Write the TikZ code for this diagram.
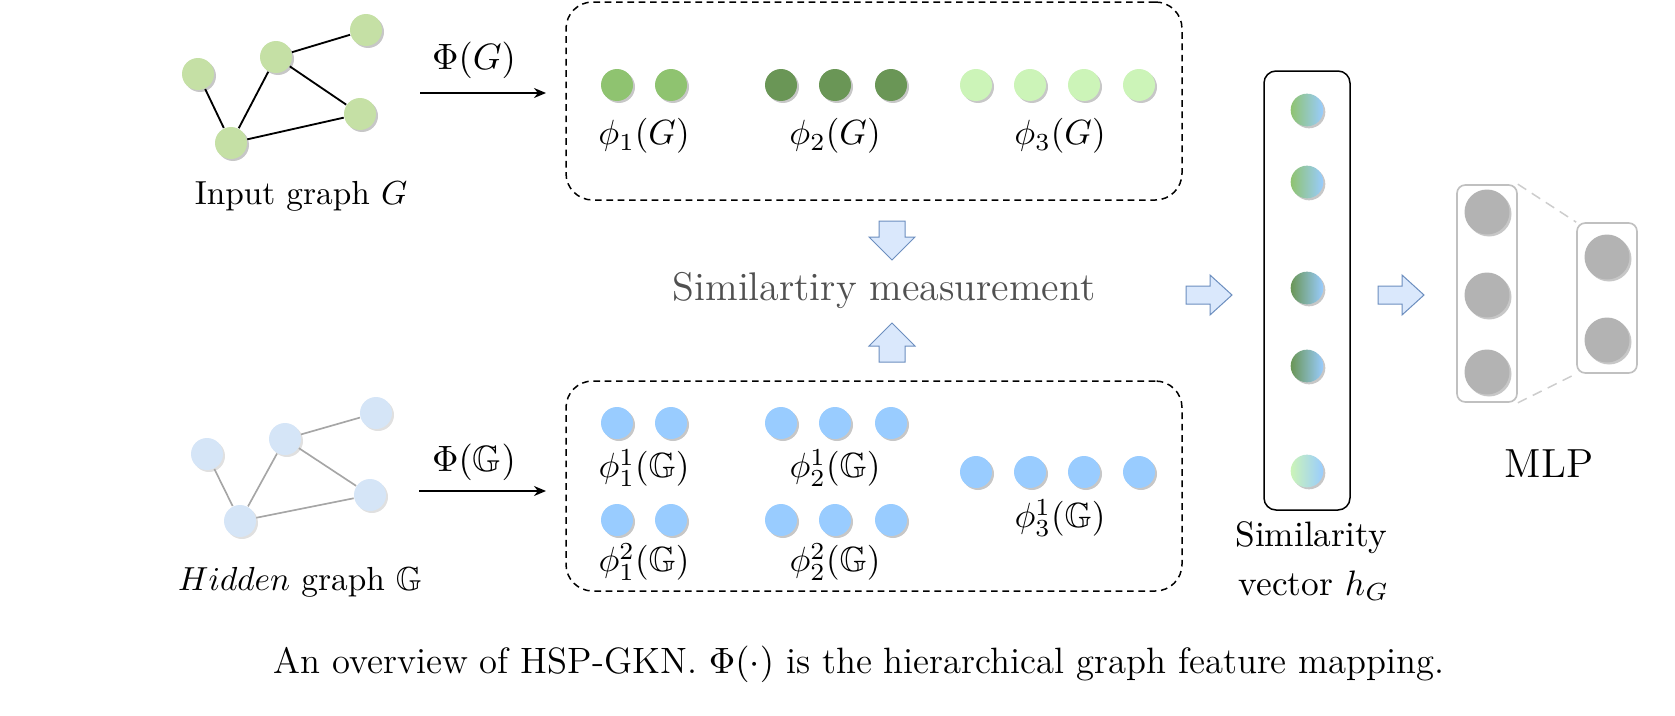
\RequirePackage{fix-cm}
\documentclass[tikz,border=0pt]{standalone}
\usepackage{amssymb}
\usetikzlibrary{shadows,arrows.meta}
\definecolor{graphgreen}{HTML}{C5E0A5}
\definecolor{hiddenblue}{HTML}{D5E5F7}
\definecolor{cone}{HTML}{8FC370}
\definecolor{ctwo}{HTML}{6A9656}
\definecolor{cthree}{HTML}{CCF4B8}
\definecolor{dotblue}{HTML}{99CCFF}
\definecolor{bafill}{HTML}{DAE8FC}
\definecolor{badraw}{HTML}{6C8EBF}
\definecolor{mlpgray}{HTML}{B3B3B3}
\definecolor{mlpbox}{HTML}{C0C0C0}
\definecolor{simgray}{HTML}{505050}
\begin{document}
\begin{tikzpicture}[x=0.3pt,y=-0.3pt,
  shad/.style={drop shadow={shadow xshift=0.6pt, shadow yshift=-0.6pt, opacity=0.22, fill=black}},
  gnode/.style={circle, minimum size=9.6pt, inner sep=0pt, fill=graphgreen, shad},
  hnode/.style={circle, minimum size=9.6pt, inner sep=0pt, fill=hiddenblue, drop shadow={shadow xshift=0.6pt, shadow yshift=-0.6pt, opacity=0.12, fill=black}},
  gedge/.style={line width=0.55pt, black},
  hedge/.style={line width=0.5pt, black!35},
  fdot/.style={circle, minimum size=9.6pt, inner sep=0pt, shad},
  vdot/.style={circle, minimum size=9.8pt, inner sep=0pt, shad},
  mdot/.style={circle, minimum size=13.5pt, inner sep=0pt, fill=mlpgray, shad},
  lbl/.style={font=\fontsize{10.5}{12}\selectfont, inner sep=0pt},
  maplbl/.style={font=\fontsize{11}{12}\selectfont, inner sep=0pt},
  txt/.style={font=\fontsize{10}{12}\selectfont, inner sep=0pt},
  maparrow/.style={line width=0.45pt, -{Stealth[length=3.6pt,width=3pt]}},
  dbox/.style={draw, dashed, dash pattern=on 2pt off 1.4pt, line width=0.45pt, rounded corners=8pt},
  blockarrow/.style={fill=bafill, draw=badraw, line width=0.3pt},
  mbox/.style={draw=mlpbox, line width=0.5pt, rounded corners=2.5pt}]
\useasboundingbox (0,0) rectangle (1675,716);

% input graph
\node[gnode] (a) at (198,74) {};
\node[gnode] (b) at (276,57) {};
\node[gnode] (c) at (366,30) {};
\node[gnode] (d) at (360,114) {};
\node[gnode] (e) at (231,143) {};
\draw[gedge] (a) -- (e);
\draw[gedge] (e) -- (b);
\draw[gedge] (b) -- (c);
\draw[gedge] (b) -- (d);
\draw[gedge] (e) -- (d);
\node[txt] (tin) at (301,196) {Input graph $G$};

% hidden graph
\node[hnode] (ha) at (207,454) {};
\node[hnode] (hb) at (285,439) {};
\node[hnode] (hc) at (376,413) {};
\node[hnode] (hd) at (370,495) {};
\node[hnode] (he) at (240,521) {};
\draw[hedge] (ha) -- (he);
\draw[hedge] (he) -- (hb);
\draw[hedge] (hb) -- (hc);
\draw[hedge] (hb) -- (hd);
\draw[hedge] (he) -- (hd);
\node[txt] (thid) at (300,582) {$Hidden$ graph $\mathbb{G}$};

% mapping arrows
\coordinate (ms1) at (420,93);
\coordinate (me1) at (546,93);
\draw[maparrow] (ms1) -- (me1);
\node[maplbl] (phiG) at (474,60) {$\Phi(G)$};
\coordinate (ms2) at (419,491);
\coordinate (me2) at (546,491);
\draw[maparrow] (ms2) -- (me2);
\node[maplbl] (phiH) at (474,462) {$\Phi(\mathbb{G})$};

% dashed boxes
\node[dbox, minimum width=184.8pt, minimum height=59.4pt] (topbox) at (874,101) {};
\node[dbox, minimum width=184.8pt, minimum height=63pt] (botbox) at (874,486) {};

% top dots
\foreach \x/\n in {617/1,671/2} \node[fdot, fill=cone] (ta\n) at (\x,85) {};
\foreach \x/\n in {781/1,835/2,891/3} \node[fdot, fill=ctwo] (tb\n) at (\x,85) {};
\foreach \x/\n in {976/1,1030/2,1084/3,1139/4} \node[fdot, fill=cthree] (tc\n) at (\x,85) {};
\node[lbl] (lta) at (644,136) {$\phi_1(G)$};
\node[lbl] (ltb) at (835,136) {$\phi_2(G)$};
\node[lbl] (ltc) at (1060,136) {$\phi_3(G)$};

% bottom dots
\foreach \x/\n in {617/1,671/2} {
  \node[fdot, fill=dotblue] (ba\n) at (\x,423) {};
  \node[fdot, fill=dotblue] (bd\n) at (\x,520) {};}
\foreach \x/\n in {781/1,835/2,891/3} {
  \node[fdot, fill=dotblue] (bb\n) at (\x,423) {};
  \node[fdot, fill=dotblue] (be\n) at (\x,520) {};}
\foreach \x/\n in {976/1,1030/2,1084/3,1139/4} \node[fdot, fill=dotblue] (bc\n) at (\x,472) {};
\node[lbl] (lba) at (644,468) {$\phi_1^1(\mathbb{G})$};
\node[lbl] (lbb) at (835,468) {$\phi_2^1(\mathbb{G})$};
\node[lbl] (lbd) at (644,562) {$\phi_1^2(\mathbb{G})$};
\node[lbl] (lbe) at (835,562) {$\phi_2^2(\mathbb{G})$};
\node[lbl] (lbc) at (1060,518) {$\phi_3^1(\mathbb{G})$};

% similarity measurement
\draw[blockarrow] (879,221) -- (905,221) -- (905,237) -- (915,237) -- (892,260) -- (869,237) -- (879,237) -- cycle;
\draw[blockarrow] (879,362) -- (905,362) -- (905,346) -- (915,346) -- (892,323) -- (869,346) -- (879,346) -- cycle;
\node[font=\fontsize{12}{14}\selectfont, text=simgray, inner sep=0pt] (simm) at (884,290) {Similartiry measurement};

% right arrows
\draw[blockarrow] (1186,286) -- (1210,286) -- (1210,275) -- (1232,295) -- (1210,315) -- (1210,304) -- (1186,304) -- cycle;
\draw[blockarrow] (1378,286) -- (1402,286) -- (1402,275) -- (1424,295) -- (1402,315) -- (1402,304) -- (1378,304) -- cycle;

% similarity vector
\node[draw, line width=0.45pt, rounded corners=3.6pt, minimum width=25.8pt, minimum height=131.7pt] (svec) at (1307,290.5) {};
\node[vdot, left color=cone, right color=dotblue] (s1) at (1307,110) {};
\node[vdot, left color=cone, right color=dotblue] (s2) at (1307,182) {};
\node[vdot, left color=ctwo, right color=dotblue] (s3) at (1307,288) {};
\node[vdot, left color=ctwo, right color=dotblue] (s4) at (1307,366) {};
\node[vdot, left color=cthree, right color=dotblue] (s5) at (1307,471) {};
\node[txt, font=\fontsize{10.6}{14.7}\selectfont, align=center] (svl) at (1311,561) {Similarity\\ \,vector $h_G$};

% MLP
\node[mbox, minimum width=18pt, minimum height=65.1pt] (m1) at (1487,293.5) {};
\node[mbox, minimum width=18pt, minimum height=45pt] (m2) at (1607,298) {};
\node[mdot] (m11) at (1487,212) {};
\node[mdot] (m12) at (1487,295) {};
\node[mdot] (m13) at (1487,372) {};
\node[mdot] (m21) at (1607,257) {};
\node[mdot] (m22) at (1607,340) {};
\draw[mlpbox!80, line width=0.45pt, dash pattern=on 3pt off 2pt] (m1.north east) -- (m2.north west);
\draw[mlpbox!80, line width=0.45pt, dash pattern=on 3pt off 2pt] (m1.south east) -- (m2.south west);
\node[font=\fontsize{12.2}{14}\selectfont, inner sep=0pt] (mlpl) at (1549,464) {MLP};

% caption
\node[font=\fontsize{11}{13}\selectfont, inner sep=0pt] (cap) at (859,664) {An overview of HSP-GKN. $\Phi(\cdot)$ is the hierarchical graph feature mapping.};
\end{tikzpicture}
\end{document}
